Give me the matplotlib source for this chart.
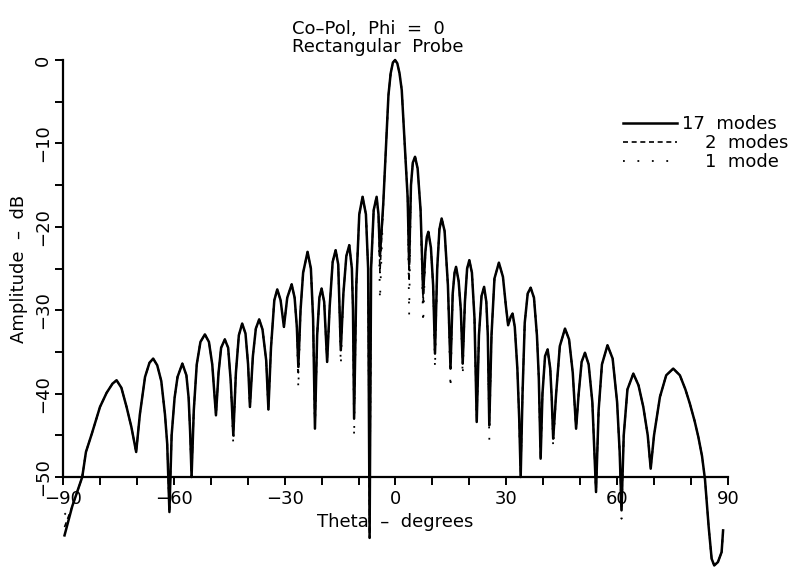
import matplotlib
matplotlib.use("Agg")
import matplotlib.pyplot as plt

# far-field pattern (theta in degrees, amplitude in dB)
theta_deg = [
    -89.6, -87.5, -84.8, -83.8, -82.2, -80.0, -78.2, -76.6, -75.5, -74.2, -72.8, -71.5, -70.2,
    -69.2, -67.8, -66.6, -65.6, -64.5, -63.4, -62.4, -61.8, -61.2,
    -60.6, -59.8, -59.0, -57.7, -56.6, -56.0, -55.6, -55.2,
    -54.6, -53.8, -52.8, -51.6, -50.5, -49.6, -48.6,
    -47.9, -47.2, -46.2, -45.3, -44.6, -43.9,
    -43.2, -42.4, -41.5, -40.6, -39.9, -39.4,
    -38.6, -37.8, -36.9, -36.0, -35.0, -34.4,
    -33.7, -32.8, -32.0, -31.1, -30.2,
    -29.3, -28.1, -27.3, -26.7, -26.3,
    -25.7, -25.0, -23.8, -22.9, -22.3, -21.8,
    -21.2, -20.6, -20.0, -19.3, -18.5,
    -17.8, -17.0, -16.2, -15.5, -14.8,
    -14.1, -13.3, -12.5, -11.8, -11.5, -11.2,
    -10.6, -9.8, -8.9, -8.0, -7.4, -7.0,
    -6.6, -5.9, -5.1, -4.6, -4.2,
    -3.3, -2.6, -1.9, -1.3, -0.7, -0.1, 0.5, 1.1, 1.7, 2.6, 3.3, 3.7,
    4.2, 4.7, 5.3, 6.0, 6.8, 7.5,
    8.1, 8.5, 8.9, 9.6, 10.2, 10.7,
    11.3, 11.9, 12.5, 13.3, 14.2, 14.9,
    15.5, 16.0, 16.4, 17.1, 17.7, 18.2,
    18.8, 19.4, 20.0, 20.7, 21.4, 22.0,
    22.6, 23.3, 24.0, 24.6, 25.0, 25.4,
    26.0, 26.8, 28.0, 29.1, 29.9, 30.5,
    31.2, 31.7, 32.3, 33.0, 33.5, 33.9,
    34.4, 35.0, 35.8, 36.6, 37.5, 38.3, 38.8, 39.3,
    39.8, 40.5, 41.2, 41.9, 42.3, 42.7,
    43.5, 44.5, 45.9, 47.0, 48.0, 48.9,
    49.6, 50.4, 51.3, 52.3, 53.3, 54.3,
    55.0, 55.9, 57.4, 58.8, 60.0, 60.7, 61.2,
    61.8, 62.8, 64.4, 65.8, 67.1, 68.3, 69.1,
    70.0, 71.6, 73.3, 75.2, 77.0, 78.5, 79.7, 81.0, 82.0, 83.0, 83.8,
    84.8, 85.6, 86.3, 87.3, 88.3, 88.7,
]
amp_17modes = [
    -57.0, -53.5, -50.0, -47.0, -44.8, -41.6, -39.9, -38.8, -38.4, -39.3, -41.6, -44.0, -47.0,
    -42.5, -38.0, -36.3, -35.8, -36.6, -38.5, -42.5, -46.0, -54.2,
    -45.0, -40.5, -38.0, -36.4, -37.8, -40.5, -44.5, -50.0,
    -42.0, -36.5, -33.8, -32.9, -33.8, -36.5, -42.6,
    -37.5, -34.5, -33.5, -34.5, -38.5, -45.0,
    -37.5, -33.0, -31.6, -32.8, -36.5, -41.6,
    -35.5, -32.2, -31.1, -32.3, -36.0, -41.9,
    -34.5, -28.8, -27.5, -28.8, -32.0,
    -28.5, -26.9, -28.5, -32.0, -36.8,
    -30.0, -25.5, -23.0, -25.0, -31.0, -44.2,
    -33.0, -28.5, -27.4, -29.0, -36.2,
    -29.5, -24.2, -22.8, -24.5, -34.8,
    -28.0, -23.5, -22.2, -25.0, -30.0, -43.0,
    -27.0, -18.5, -16.4, -18.5, -25.0, -57.3,
    -25.0, -18.0, -16.4, -18.5, -23.5,
    -17.2, -10.8, -4.2, -1.6, -0.3, 0.0, -0.4, -1.6, -3.6, -10.8, -16.5, -24.5,
    -15.0, -12.3, -11.6, -13.0, -18.0, -28.0,
    -23.0, -21.2, -20.6, -22.5, -27.0, -35.2,
    -25.0, -20.3, -19.0, -20.5, -27.0, -37.0,
    -28.0, -25.5, -24.8, -26.5, -30.0, -36.4,
    -29.0, -25.0, -24.0, -25.5, -31.0, -43.4,
    -33.0, -28.3, -27.2, -29.0, -33.0, -43.8,
    -33.0, -26.2, -24.3, -26.0, -29.5, -31.8,
    -30.8, -30.4, -32.0, -37.0, -43.0, -50.0,
    -40.0, -31.5, -28.0, -27.3, -28.5, -33.0, -38.0, -47.8,
    -40.0, -35.5, -34.7, -37.0, -40.5, -45.4,
    -40.0, -34.3, -32.2, -33.5, -37.5, -44.2,
    -40.0, -36.2, -35.1, -36.5, -41.0, -51.8,
    -42.0, -36.5, -34.2, -35.8, -41.0, -47.0, -54.0,
    -45.0, -39.5, -37.6, -39.0, -41.6, -45.0, -49.0,
    -45.0, -40.4, -37.8, -37.0, -37.8, -39.5, -41.2, -43.3, -45.2, -47.5, -50.3,
    -56.0, -59.8, -60.6, -60.2, -59.0, -56.4,
]

# the fewer-mode curves lie on the 17-mode one except at these points
nulls_2modes = {-89.6: -56.0, -4.2: -25.5, 3.7: -26.5, 7.5: -29.0, -26.3: -37.5}
nulls_1mode = {-89.6: -54.5, -43.9: -46.2, -26.3: -39.4, -14.8: -36.6, -11.2: -45.2,
               -4.2: -28.8, 3.7: -30.6, 7.5: -31.6, 10.7: -37.0, 14.9: -39.4,
               18.2: -37.9, 25.4: -45.6, 42.7: -46.5, 61.2: -55.0}

amp_2modes = [nulls_2modes.get(t, a) for t, a in zip(theta_deg, amp_17modes)]
amp_1mode = [nulls_1mode.get(t, a) for t, a in zip(theta_deg, amp_17modes)]

fig = plt.figure(figsize=(8.02, 5.75), dpi=100)
ax = fig.add_axes([0.0786, 0.1704, 0.829, 0.7252])

l1, = ax.plot(theta_deg, amp_1mode, color="black", lw=1.3, clip_on=False)
l1.set_dashes((1, 7))
l2, = ax.plot(theta_deg, amp_2modes, color="black", lw=1.2, clip_on=False)
l2.set_dashes((3, 2.2))
l17, = ax.plot(theta_deg, amp_17modes, color="black", lw=1.8, clip_on=False)

ax.set_xlim(-90, 90)
ax.set_ylim(-50, 0)
ax.set_xticks(range(-90, 91, 30))
ax.set_xticks(range(-90, 91, 10), minor=True)
ax.set_yticks(range(-50, 1, 10))
ax.set_yticks(range(-50, 1, 5), minor=True)

for s in ["top", "right"]:
    ax.spines[s].set_visible(False)
for s in ["left", "bottom"]:
    ax.spines[s].set_linewidth(1.6)

ax.tick_params(which="both", direction="out", length=6, width=1.4, labelsize=13)
ax.tick_params(axis="x", pad=3)
ax.tick_params(axis="y", pad=2)
for lab in ax.get_yticklabels():
    lab.set_rotation(90)
    lab.set_va("center")

ax.set_xlabel("Theta  \u2013  degrees", fontsize=13, labelpad=4)
ax.set_ylabel("Amplitude  \u2013  dB", fontsize=13, labelpad=4)

fig.text(0.364, 0.965, "Co\u2013Pol,  Phi  =  0\nRectangular  Probe",
         fontsize=13, ha="left", va="top", linespacing=1.0)

fig.legend([l17, l2, l1], ["17  modes", "\u2007\u20072  modes", "\u2007\u20071  mode"],
           loc="upper left", bbox_to_anchor=(0.765, 0.815), frameon=False,
           fontsize=13, handlelength=3.0, handletextpad=0.3, labelspacing=0.05,
           borderpad=0.0)

fig.savefig("out.png", dpi=100)
